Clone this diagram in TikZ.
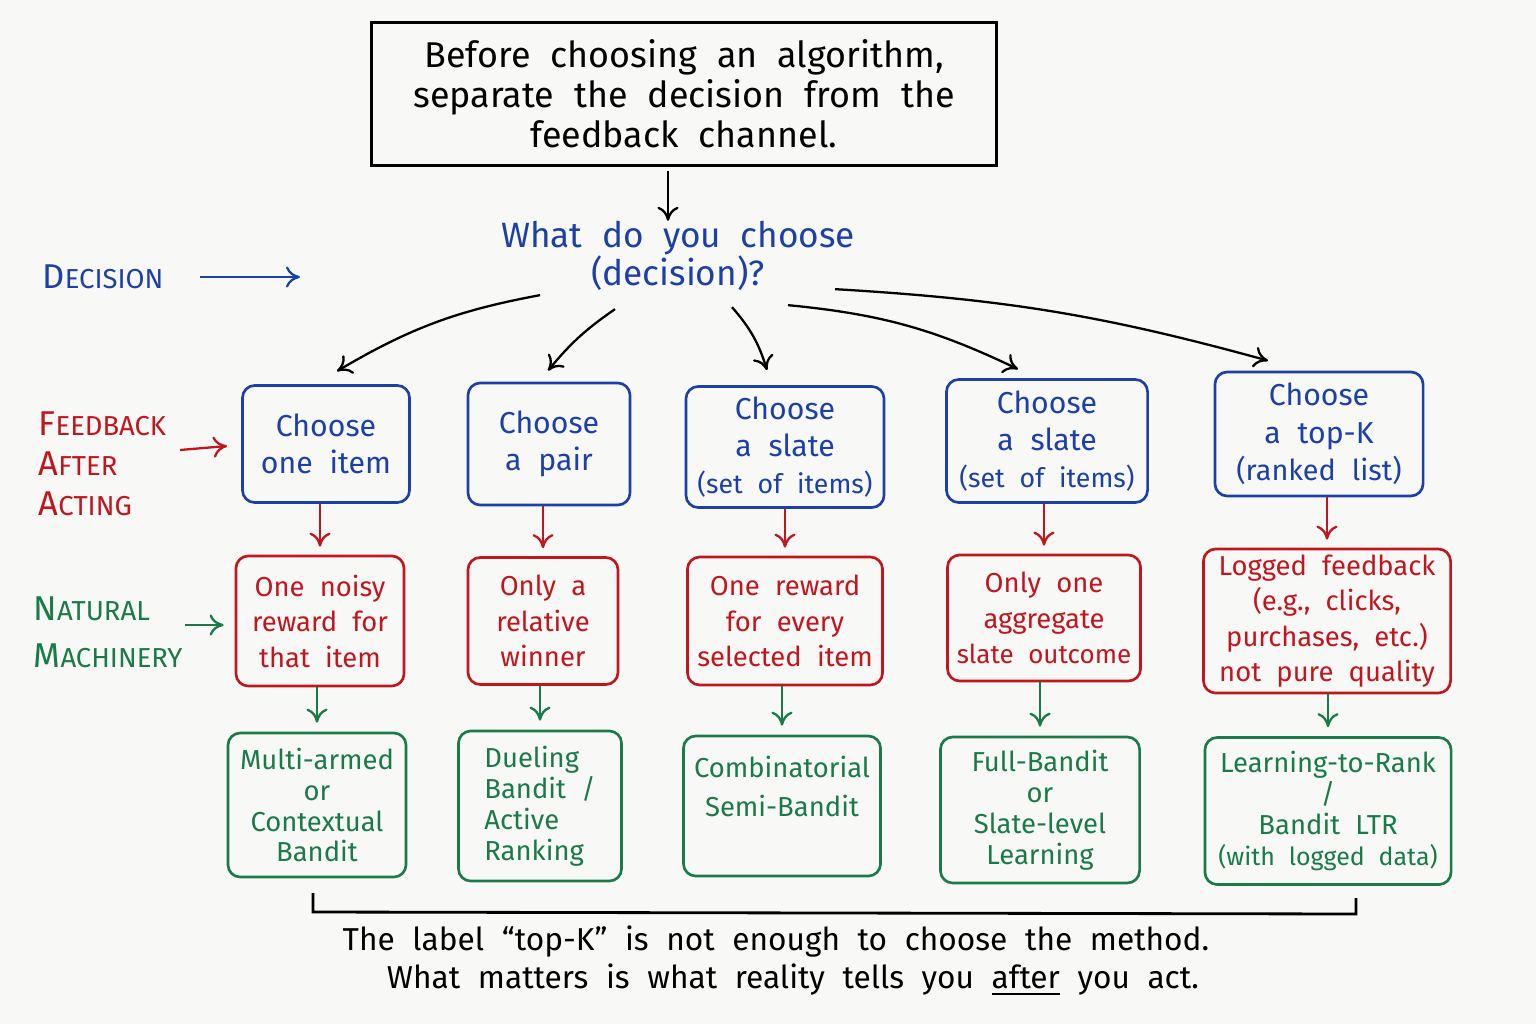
\documentclass[tikz,border=0pt]{standalone}
\usepackage{fontspec}
\setmainfont{Fira Sans}[WordSpace=2.1]
\usetikzlibrary{calc,arrows.meta}

\definecolor{paper}{HTML}{F8F8F6}
\definecolor{decblue}{HTML}{1C40A8}
\definecolor{fbred}{HTML}{C2161E}
\definecolor{mgreen}{HTML}{1A7A48}

\newcommand{\capword}[2]{#1{\fontsize{7.8}{9}\selectfont #2}}
\newcommand{\narrowline}[2]{{\fontsize{#1}{9}\selectfont #2}}

\tikzset{
  boxbase/.style={draw, rounded corners=3.5pt, line width=0.75pt, align=center, inner sep=0pt},
  choosebox/.style={boxbase, draw=decblue, text=decblue, font=\fontsize{8.6}{10.6}\selectfont},
  feedbox/.style={boxbase, draw=fbred, text=fbred, font=\fontsize{7.8}{10.1}\selectfont},
  methodbox/.style={boxbase, draw=mgreen, text=mgreen, font=\fontsize{7.8}{8.8}\selectfont},
  arr/.style={line width=0.65pt, -{To[length=4pt,width=6pt]}},
  sidelabel/.style={align=left, inner sep=0pt, font=\fontsize{9.8}{10.4}\selectfont}
}

\begin{document}
\begin{tikzpicture}[x=0.01cm, y=-0.01cm]
  \fill[paper] (0,0) rectangle (1536,1024);
  \useasboundingbox (0,0) rectangle (1536,1024);

  % question at the top
  \node[draw, line width=0.8pt, minimum width=6.25cm, minimum height=1.43cm, align=center,
        font=\fontsize{10.2}{11.4}\selectfont] (title) at (684,94)
        {Before choosing an algorithm,\\separate the decision from the\\feedback channel.};
  \node[text=decblue, align=center, font=\fontsize{10}{10.8}\selectfont] (what) at (678,256)
        {What do you choose\\(decision)?};
  \draw[arr] ($(title.south)+(-16,4)$) -- ($(what.north)+(-10,12)$);

  % labels on the left
  \node[sidelabel, text=decblue, anchor=west] (decl) at (42,277) {\capword{D}{ECISION}};
  \coordinate (decend) at (300,277);
  \draw[arr, decblue] (200,277) -- (decend);
  \node[sidelabel, text=fbred, anchor=west] (fbl) at (38,464)
        {\capword{F}{EEDBACK}\\[1pt]\capword{A}{FTER}\\[1pt]\capword{A}{CTING}};
  \node[sidelabel, text=mgreen, anchor=west] (natl) at (33,632)
        {\capword{N}{ATURAL}\\[3pt]\capword{M}{ACHINERY}};

  % what you choose
  \node[choosebox, minimum width=1.67cm, minimum height=1.17cm] (c1) at (326,444) {Choose\\one item};
  \node[choosebox, minimum width=1.62cm, minimum height=1.22cm] (c2) at (549,444) {Choose\\a pair};
  \node[choosebox, minimum width=1.98cm, minimum height=1.21cm] (c3) at (785,447)
        {Choose\\a slate\\\narrowline{7.6}{(set of items)}};
  \node[choosebox, minimum width=2.01cm, minimum height=1.23cm] (c4) at (1047,441)
        {Choose\\a slate\\\narrowline{7.6}{(set of items)}};
  \node[choosebox, minimum width=2.08cm, minimum height=1.24cm] (c5) at (1319,434)
        {Choose\\a top-K\\\narrowline{8.2}{(ranked list)}};

  % what comes back
  \node[feedbox, minimum width=1.68cm, minimum height=1.30cm] (f1) at (320,621) {One noisy\\reward for\\that item};
  \node[feedbox, minimum width=1.50cm, minimum height=1.27cm] (f2) at (543,621) {Only a\\relative\\winner};
  \node[feedbox, minimum width=1.95cm, minimum height=1.28cm] (f3) at (785,621) {One reward\\for every\\selected item};
  \node[feedbox, minimum width=1.93cm, minimum height=1.26cm] (f4) at (1044,618)
        {Only one\\aggregate\\\narrowline{7.4}{slate outcome}};
  \node[feedbox, minimum width=2.47cm, minimum height=1.44cm] (f5) at (1327,621)
        {Logged feedback\\(e.g., clicks,\\purchases, etc.)\\not pure quality};

  % methods
  \node[methodbox, minimum width=1.78cm, minimum height=1.44cm] (m1) at (317,805)
        {Multi-armed\\or\\Contextual\\Bandit};
  \node[methodbox, minimum width=1.63cm, minimum height=1.50cm, align=left] (m2) at (540,806)
        {Dueling\\Bandit /\\Active\\Ranking};
  \node[methodbox, minimum width=1.97cm, minimum height=1.40cm,
        font=\fontsize{7.8}{11.2}\selectfont] (m3) at (782,806)
        {Combinatorial\\Semi-Bandit\\ \mbox{}};
  \node[methodbox, minimum width=1.99cm, minimum height=1.46cm] (m4) at (1040,810)
        {Full-Bandit\\or\\Slate-level\\Learning};
  \node[methodbox, minimum width=2.46cm, minimum height=1.47cm] (m5) at (1328,811)
        {Learning-to-Rank\\/\\Bandit LTR\\\narrowline{7.1}{(with logged data)}};

  % decision arrows
  \draw[arr] ($(what.south)+(-138,-8)$) to[bend right=10] ($(c1.north)+(11,-13)$);
  \draw[arr] ($(what.south)+(-63,6)$) to[bend right=8] ($(c2.north)+(-1,-11)$);
  \draw[arr] ($(what.south)+(54,4)$) to[bend left=12] ($(c3.north)+(-18,-15)$);
  \draw[arr] ($(what.south)+(110,2)$) to[bend left=10] ($(c4.north)+(-29,-9)$);
  \draw[arr] ($(what.south)+(157,-14)$) to[bend left=6] ($(c5.north)+(-51,-10)$);

  % feedback arrows
  \draw[arr, fbred] (180,450) -- ($(c1.west)+(-14,2)$);
  \foreach \a/\b in {c1/f1, c2/f2, c3/f3, c4/f4, c5/f5}
    \draw[arr, fbred] (\a.south -| \b.north) -- ($(\b.north)+(0,-8)$);

  % machinery arrows
  \draw[arr, mgreen] (185,625) -- ($(f1.west)+(-11,4)$);
  \foreach \a/\b in {f1/m1, f2/m2, f3/m3, f4/m4, f5/m5}
    \draw[arr, mgreen] (\a.south -| \b.north) -- ($(\b.north)+(0,-9)$);

  % bracket and closing note
  \draw[line width=0.8pt] (313,893) -- (313,912) -- (1356,914) -- (1356,898);
  \node[font=\fontsize{9}{9}\selectfont] (note1) at (776,942)
        {The label ``top-K'' is not enough to choose the method.};
  \node[font=\fontsize{9}{9}\selectfont] (note2) at (793,980)
        {What matters is what reality tells you \underline{after} you act.};
\end{tikzpicture}
\end{document}
